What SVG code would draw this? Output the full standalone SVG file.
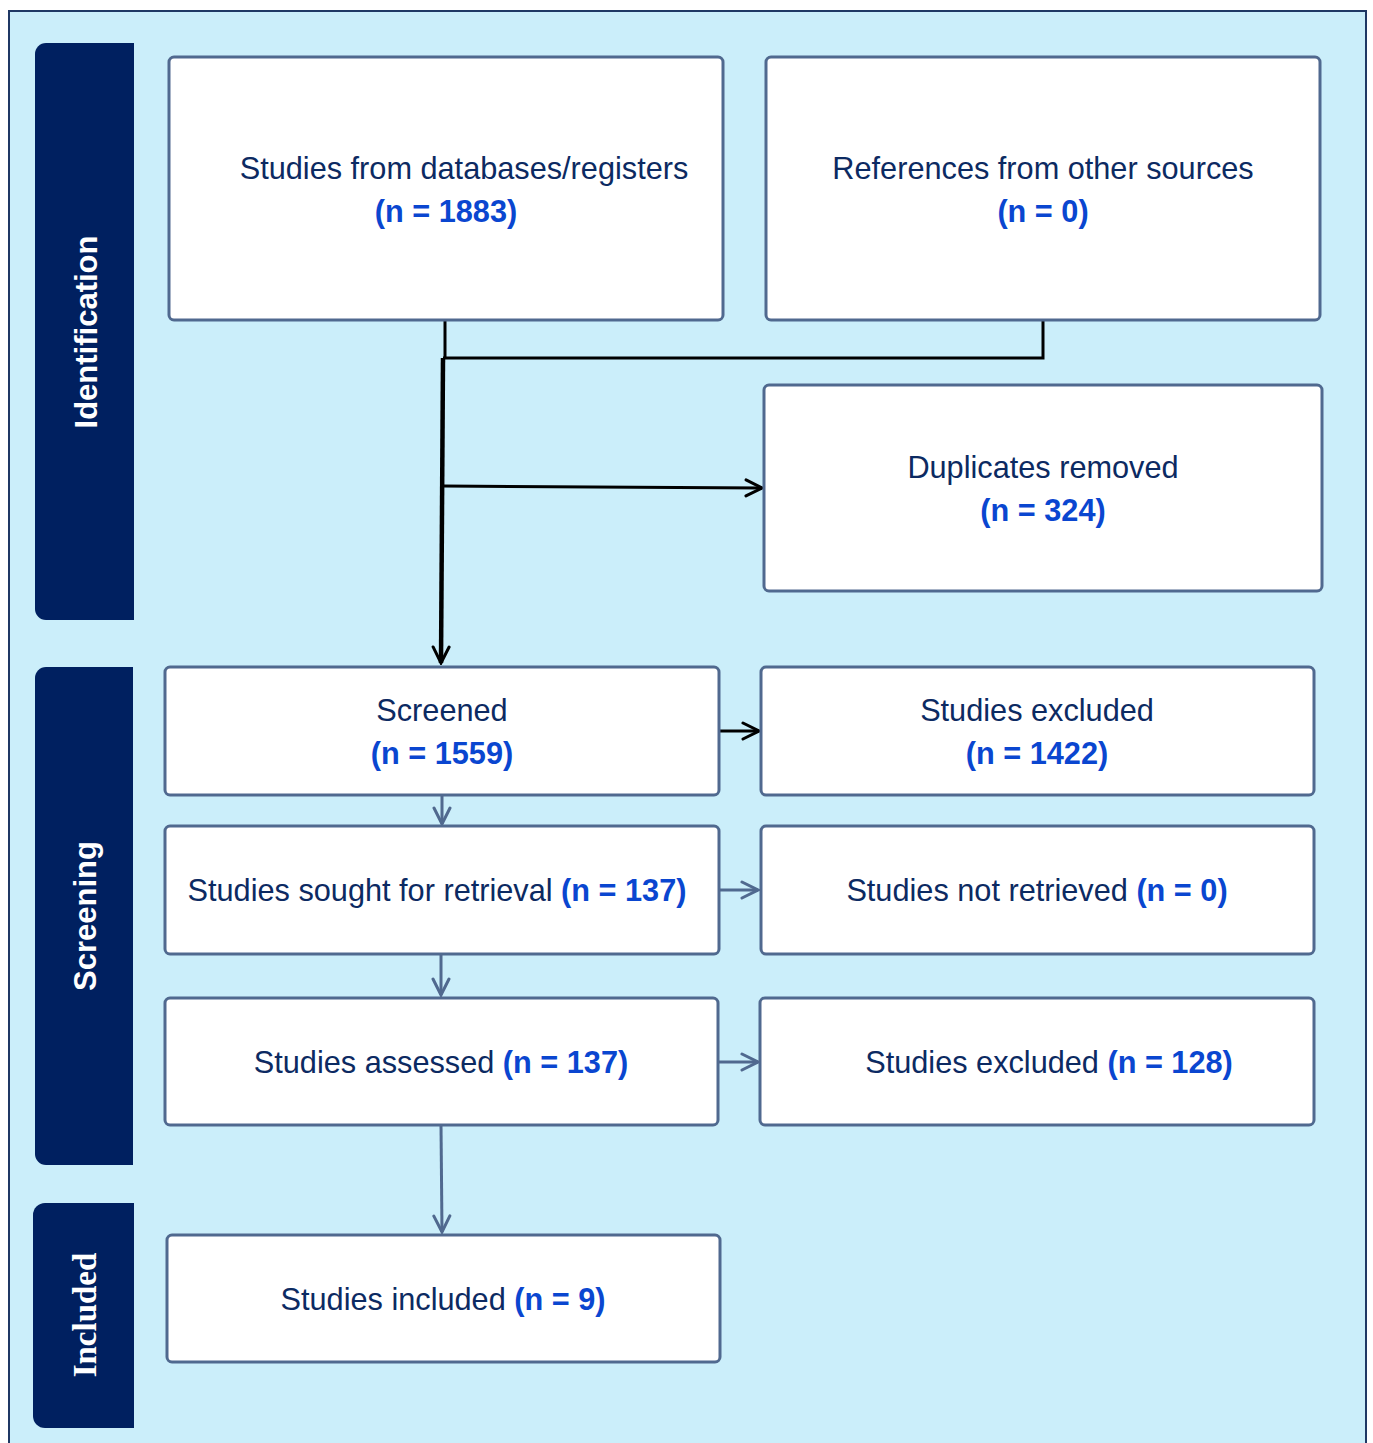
<svg xmlns="http://www.w3.org/2000/svg" width="1373" height="1443" viewBox="0 0 1373 1443">
<defs>
<style>
.box{fill:#fff;stroke:#50698f;stroke-width:3}
.side{fill:#002060}
.t{font-family:"Liberation Sans",Arial,sans-serif;font-size:30.7px;fill:#0c2a62;text-anchor:middle}
.n{fill:#0a46d0;font-weight:bold}
.st{font-family:"Liberation Sans",Arial,sans-serif;font-size:31px;font-weight:bold;fill:#fff;text-anchor:middle}
.k{stroke:#000;stroke-width:3;fill:none}
.b{stroke:#50698f;stroke-width:3;fill:none}
</style>
<marker id="ak" viewBox="0 0 20 20" refX="18" refY="10" markerWidth="20" markerHeight="20" markerUnits="userSpaceOnUse" orient="auto"><path d="M2,2 L18,10 L2,18" fill="none" stroke="#000" stroke-width="3" stroke-linecap="round"/></marker>
<marker id="ab" viewBox="0 0 20 20" refX="18" refY="10" markerWidth="20" markerHeight="20" markerUnits="userSpaceOnUse" orient="auto"><path d="M2,2 L18,10 L2,18" fill="none" stroke="#50698f" stroke-width="3" stroke-linecap="round"/></marker>
</defs>
<rect x="0" y="0" width="1373" height="1443" fill="#fff"/>
<rect x="9" y="11" width="1357" height="1440" fill="#cbeefa" stroke="#1f3864" stroke-width="2"/>

<g id="side-identification"><path class="side" d="M46,43 H134 V620 H46 A11,11 0 0 1 35,609 V54 A11,11 0 0 1 46,43 Z"/><text class="st" transform="translate(97,332) rotate(-90)">Identification</text></g>
<g id="side-screening"><path class="side" d="M46,667 H133 V1165 H46 A11,11 0 0 1 35,1154 V678 A11,11 0 0 1 46,667 Z"/><text class="st" transform="translate(96,916) rotate(-90)">Screening</text></g>
<g id="side-included"><path class="side" d="M45,1203 H134 V1428 H45 A12,12 0 0 1 33,1416 V1215 A12,12 0 0 1 45,1203 Z"/><text class="st" style="font-family:'Liberation Serif','Times New Roman',serif;font-size:33px" transform="translate(96,1315) rotate(-90)">Included</text></g>

<g id="connectors">
<path class="k" d="M445,320 V358"/>
<path class="k" d="M1043,320 V358 H443"/>
<path class="k" style="stroke-width:4.5" d="M443,358 L441,663" marker-end="url(#ak)"/>
<path class="k" d="M443,486 L762,488" marker-end="url(#ak)"/>
<path class="k" d="M719,731 H759" marker-end="url(#ak)"/>
<path class="b" d="M442,795 V824" marker-end="url(#ab)"/>
<path class="b" d="M719,890 H758" marker-end="url(#ab)"/>
<path class="b" d="M441,954 V995" marker-end="url(#ab)"/>
<path class="b" d="M719,1062 H758" marker-end="url(#ab)"/>
<path class="b" d="M441,1125 L442,1232" marker-end="url(#ab)"/>
</g>

<g id="n-databases"><rect class="box" x="169" y="57" width="554" height="263" rx="5"/><text class="t" x="464" y="179">Studies from databases/registers</text><text class="t n" x="446" y="222">(n = 1883)</text></g>
<g id="n-other"><rect class="box" x="766" y="57" width="554" height="263" rx="5"/><text class="t" x="1043" y="179">References from other sources</text><text class="t n" x="1043" y="222">(n = 0)</text></g>
<g id="n-duplicates"><rect class="box" x="764" y="385" width="558" height="206" rx="5"/><text class="t" x="1043" y="478">Duplicates removed</text><text class="t n" x="1043" y="521">(n = 324)</text></g>
<g id="n-screened"><rect class="box" x="165" y="667" width="554" height="128" rx="5"/><text class="t" x="442" y="721">Screened</text><text class="t n" x="442" y="764">(n = 1559)</text></g>
<g id="n-excluded1"><rect class="box" x="761" y="667" width="553" height="128" rx="5"/><text class="t" x="1037" y="721">Studies excluded</text><text class="t n" x="1037" y="764">(n = 1422)</text></g>
<g id="n-sought"><rect class="box" x="165" y="826" width="554" height="128" rx="5"/><text class="t" x="437" y="901">Studies sought for retrieval <tspan class="n">(n = 137)</tspan></text></g>
<g id="n-notretrieved"><rect class="box" x="761" y="826" width="553" height="128" rx="5"/><text class="t" x="1037" y="901">Studies not retrieved <tspan class="n">(n = 0)</tspan></text></g>
<g id="n-assessed"><rect class="box" x="165" y="998" width="553" height="127" rx="5"/><text class="t" x="441" y="1073">Studies assessed <tspan class="n">(n = 137)</tspan></text></g>
<g id="n-excluded2"><rect class="box" x="760" y="998" width="554" height="127" rx="5"/><text class="t" x="1049" y="1073">Studies excluded <tspan class="n">(n = 128)</tspan></text></g>
<g id="n-included"><rect class="box" x="167" y="1235" width="553" height="127" rx="5"/><text class="t" x="443" y="1310">Studies included <tspan class="n">(n = 9)</tspan></text></g>
</svg>
